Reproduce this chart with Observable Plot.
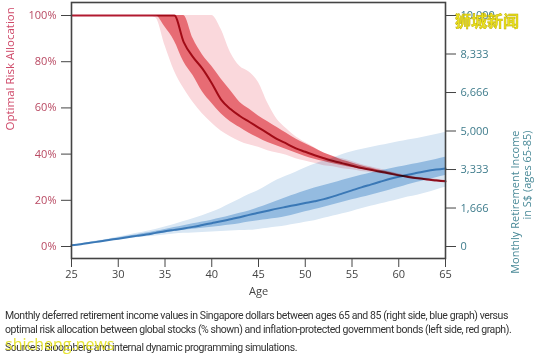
<!DOCTYPE html>
<html><head><meta charset="utf-8">
<script src="https://cdn.jsdelivr.net/npm/d3@7"></script>
<script src="https://cdn.jsdelivr.net/npm/@observablehq/plot@0.6"></script>
<style>
html,body{margin:0;padding:0;background:#fff;}
#wrap{position:relative;width:535px;height:356px;overflow:hidden;background:#fff;}
#chart{position:absolute;left:0;top:0;}
#overlay{position:absolute;left:0;top:0;}
</style>
</head><body>
<div id="wrap"><div id="chart"></div><svg id="overlay" width="535" height="356"></svg></div>
<script>
// ---- data ----
const ages = [25,26,27,28,29,30,31,32,33,34,35,36,37,38,39,40,41,42,43,44,45,46,47,48,49,50,51,52,53,54,55,56,57,58,59,60,61,62,63,64,65];
// Optimal risk allocation (%), red graph
const riskMedian = [100,100,100,100,100,100,100,100,100,100,100,100,88.5,82,77,70.7,63.6,59.5,56.5,54,51.5,49,46.5,44.5,42.5,41,39.5,38.2,37,36,35,34,33.2,32.4,31.6,30.8,30.1,29.5,29,28.6,28.2];
const riskP25 = [100,100,100,100,100,100,100,100,100,100,95,89,80,74,67,62,57.5,54,51.5,49,47,45,43.5,42,40.5,39,37.8,36.8,35.8,35,34.2,33.4,32.7,32,31.3,30.5,29.8,29.2,28.7,28.3,27.9];
const riskP75 = [100,100,100,100,100,100,100,100,100,100,100,100,100,90,83,78,72.5,67.5,62.5,59.5,56.5,54,51.5,49,46.5,44.5,42.5,40.5,39,37.3,36.2,35,34,33,32.1,31.2,30.4,29.8,29.3,28.9,28.5];
const riskP5 = [100,100,100,100,100,100,100,100,100,99,87,76,68.5,62.5,57.5,53.5,50,47.5,45.5,44,43,41.5,40.5,39.5,38,37,36,35,34.5,33.7,33.2,32.5,32,31.5,31,30.2,29.6,29,28.5,28.1,27.7];
const riskP95 = [100,100,100,100,100,100,100,100,100,100,100,100,100,100,100,100,94,84,78,75.5,71,62,55,51,47.5,45,42.8,40.5,39,38,36.8,35.5,34.5,33.5,32.5,31.5,30.7,30,29.5,29.1,28.7];
// Monthly retirement income (S$), blue graph
const incomeMedian = [50,100,160,220,280,340,400,460,520,590,660,720,780,850,930,1010,1090,1180,1270,1370,1460,1550,1640,1720,1800,1880,1960,2050,2170,2300,2430,2560,2680,2800,2920,3020,3110,3190,3270,3330,3380];
const incomeP25 = [50,95,150,205,260,315,370,420,470,530,590,650,700,750,790,830,880,930,990,1060,1120,1170,1220,1300,1400,1500,1600,1700,1810,1920,2020,2120,2220,2330,2440,2550,2670,2780,2880,2980,3070];
const incomeP75 = [50,105,170,235,300,370,440,510,580,660,740,820,900,980,1060,1140,1230,1330,1440,1540,1680,1820,1970,2120,2260,2400,2530,2640,2750,2870,2980,3080,3180,3280,3360,3440,3520,3590,3680,3770,3860];
const incomeP5 = [40,85,135,185,235,285,335,380,420,460,500,540,570,590,610,630,650,670,690,700,740,790,840,900,970,1050,1120,1220,1320,1420,1520,1630,1740,1840,1940,2040,2140,2220,2330,2450,2560];
const incomeP95 = [60,115,185,255,330,410,490,570,650,740,840,950,1080,1200,1330,1480,1650,1850,2050,2250,2420,2650,2880,3050,3220,3400,3560,3700,3830,3980,4100,4200,4290,4370,4450,4530,4610,4680,4760,4850,4950];
// axes
const xTicks = [25,30,35,40,45,50,55,60,65];
const riskTicks = [0,20,40,60,80,100];
const incomeTickValues = [0,1666,3333,5000,6666,8333,10000];
const incomeTickLabels = ["0","1,666","3,333","5,000","6,666","8,333","10,000"];
const incomeMax = 10000; // right axis top aligns with 100% on left axis

// ---- build ----
const toY = v => v / incomeMax * 100;
const rows = ages.map((a, i) => ({
  age: a,
  rm: riskMedian[i], r25: riskP25[i], r75: riskP75[i], r5: riskP5[i], r95: riskP95[i],
  im: toY(incomeMedian[i]), i25: toY(incomeP25[i]), i75: toY(incomeP75[i]), i5: toY(incomeP5[i]), i95: toY(incomeP95[i])
}));
const rightTicks = incomeTickValues.map(toY);
const curve = "monotone-x";

const chart = Plot.plot({
  width: 535, height: 298,
  marginLeft: 71, marginRight: 90, marginTop: 2, marginBottom: 40,
  style: {fontFamily: "'Open Sans', sans-serif", background: "transparent"},
  x: {domain: [25, 65]},
  y: {domain: [-5.19, 105.63]},
  marks: [
    Plot.areaY(rows, {x: "age", y1: "i5", y2: "i95", fill: "#d9e7f4", curve}),
    Plot.areaY(rows, {x: "age", y1: "i25", y2: "i75", fill: "#94bbe0", curve}),
    Plot.lineY(rows, {x: "age", y: "im", stroke: "#3a78b6", strokeWidth: 2, curve}),
    Plot.areaY(rows, {x: "age", y1: "r5", y2: "r95", fill: "#fad8dc", mixBlendMode: "multiply", curve}),
    Plot.areaY(rows, {x: "age", y1: "r25", y2: "r75", fill: "#ec8086", mixBlendMode: "multiply", curve}),
    Plot.lineY(rows, {x: "age", y: "rm", stroke: "#b21a30", strokeWidth: 2, mixBlendMode: "multiply", curve}),
    Plot.frame({stroke: "#444", strokeWidth: 1.6}),
    Plot.axisX({ticks: xTicks, tickSize: 9, tickPadding: 3, fontSize: 11, stroke: "#444", fill: "#444",
      label: "Age", labelAnchor: "center", labelOffset: 36, labelArrow: "none"}),
    Plot.axisY({anchor: "left", ticks: riskTicks, tickFormat: d => d + "%", tickSize: 10, tickPadding: 5,
      fontSize: 11, stroke: "#444", fill: "#b94a63", label: null}),
    Plot.axisY({anchor: "right", ticks: rightTicks, tickFormat: d => incomeTickLabels[rightTicks.indexOf(d)],
      tickSize: 10, tickPadding: 5, fontSize: 11, stroke: "#444", fill: "#3f7c8c", label: null}),
    Plot.text(["Optimal Risk Allocation"], {frameAnchor: "left", dx: -61, rotate: -90, fontSize: 11.5, fill: "#cf4868"}),
    Plot.text(["Monthly Retirement Income\nin S$ (ages 65-85)"], {frameAnchor: "right", dx: 76, rotate: -90, fontSize: 11, lineHeight: 1.05, fill: "#4a8a98"})
  ]
});
document.getElementById("chart").appendChild(chart);

// caption and watermarks
const ov = d3.select("#overlay");
const capLines = [
  {t: "Monthly deferred retirement income values in Singapore dollars between ages 65 and 85 (right side, blue graph) versus", y: 319, w: 503},
  {t: "optimal risk allocation between global stocks (% shown) and inflation-protected government bonds (left side, red graph).", y: 333, w: 506},
  {t: "Sources: Bloomberg and internal dynamic programming simulations.", y: 351, w: 292}
];
ov.selectAll("text.cap").data(capLines).join("text")
  .attr("class", "cap").attr("x", 5).attr("y", d => d.y)
  .style("font-family", "Roboto, sans-serif").style("font-size", "10.5px").style("fill", "#333")
  .text(d => d.t)
  .each(function(d) {
    const L = this.getComputedTextLength();
    const n = d.t.length;
    d3.select(this).style("letter-spacing", ((d.w - L) / n).toFixed(3) + "px");
  });
ov.append("text").attr("x", 455).attr("y", 27)
  .style("font-family", "'Noto Sans CJK SC', sans-serif").style("font-size", "16px").style("font-weight", "bold")
  .style("fill", "#ece21a").style("stroke", "#b8a800").style("stroke-width", "0.4")
  .text("狮城新闻");
ov.append("text").attr("x", 5).attr("y", 350)
  .style("font-family", "'Open Sans', sans-serif").style("font-size", "16px")
  .style("fill", "#e4e020").style("opacity", 0.9)
  .text("shicheng.news");
</script>
</body></html>
